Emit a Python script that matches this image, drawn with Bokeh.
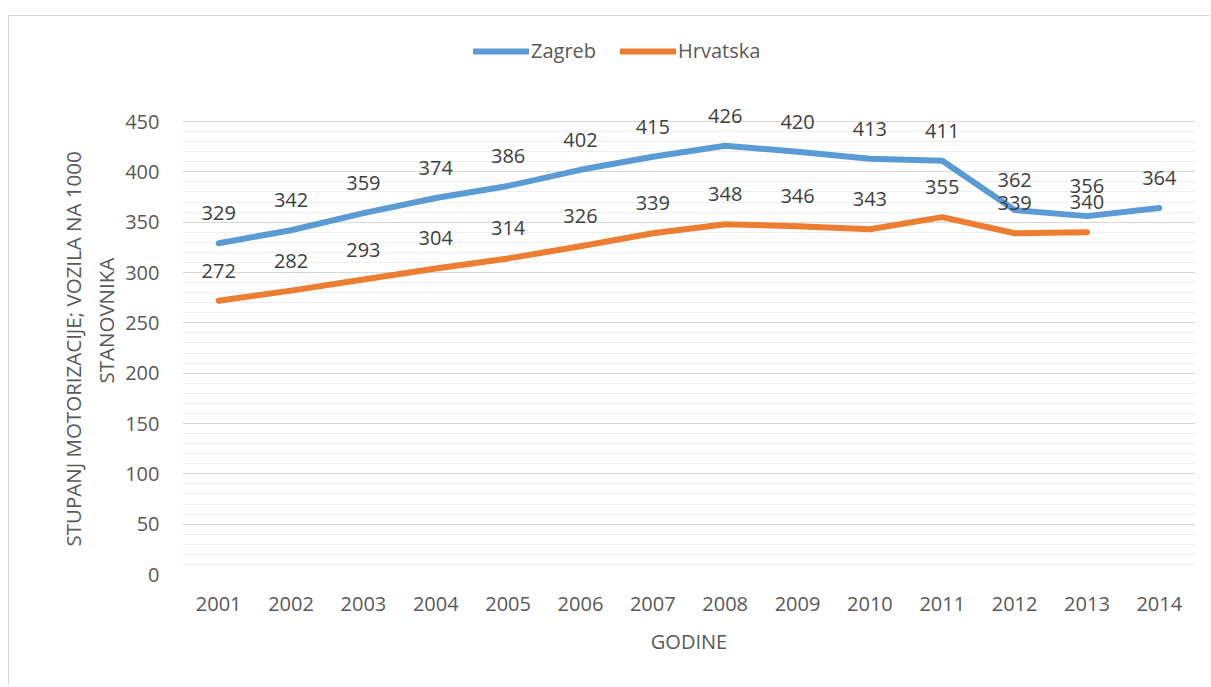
from bokeh.plotting import figure
from bokeh.layouts import column, row
from bokeh.models import (ColumnDataSource, FactorRange, Range1d, FixedTicker,
                          Legend, LegendItem, Spacer, Title)
from bokeh.core.properties import value
from bokeh.embed import file_html
from bokeh.resources import INLINE

years = ["2001", "2002", "2003", "2004", "2005", "2006", "2007",
         "2008", "2009", "2010", "2011", "2012", "2013", "2014"]
zagreb = [329, 342, 359, 374, 386, 402, 415, 426, 420, 413, 411, 362, 356, 364]
hrvatska_years = years[:13]
hrvatska = [272, 282, 293, 304, 314, 326, 339, 348, 346, 343, 355, 339, 340]
y_major_ticks = [0, 50, 100, 150, 200, 250, 300, 350, 400, 450]
y_minor_ticks = [v for v in range(10, 450, 10) if v % 50 != 0]
y_title_lines = ["STUPANJ MOTORIZACIJE; VOZILA NA 1000", "STANOVNIKA"]
x_title = "GODINE"

FONT = "Open Sans"
AXIS_COLOR = "#595959"
LABEL_COLOR = "#404040"
BLUE = "#5B9BD5"
ORANGE = "#ED7D31"

# frame extends above the 450 line so that labels/legend are not clipped
Y_TOP = (573 - 22) * 450 / 453

p = figure(width=1202, height=670, x_range=FactorRange(*years, range_padding=0),
           y_range=Range1d(0, Y_TOP), output_backend="svg", toolbar_location=None,
           min_border_left=173, min_border_right=16, min_border_top=7,
           min_border_bottom=112)
p.styles = {"border-top": "1px solid #d9d9d9", "border-left": "1px solid #d9d9d9"}
p.outline_line_color = None
p.background_fill_color = "white"
p.border_fill_color = "white"

src_z = ColumnDataSource(dict(x=years, y=zagreb, t=[str(v) for v in zagreb]))
src_h = ColumnDataSource(dict(x=hrvatska_years, y=hrvatska, t=[str(v) for v in hrvatska]))

# axes / grid
p.yaxis.ticker = FixedTicker(ticks=y_major_ticks)
p.ygrid.ticker = FixedTicker(ticks=y_major_ticks, minor_ticks=y_minor_ticks)
p.ygrid.grid_line_color = "#d9d9d9"
p.ygrid.grid_line_width = 1
p.ygrid.minor_grid_line_color = "#f0f0f0"
p.ygrid.minor_grid_line_width = 1
p.xgrid.grid_line_color = None

rz = p.line("x", "y", source=src_z, line_color=BLUE, line_width=6,
            line_cap="round", line_join="round")
rh = p.line("x", "y", source=src_h, line_color=ORANGE, line_width=6,
            line_cap="round", line_join="round")

for src in (src_z, src_h):
    p.text("x", "y", text="t", source=src, y_offset=-30, text_align="center",
           text_baseline="middle", text_font=value(FONT), text_font_size="20px",
           text_color=LABEL_COLOR)

for ax in (p.xaxis, p.yaxis):
    ax.axis_line_color = None
    ax.major_tick_line_color = None
    ax.minor_tick_line_color = None
    ax.major_label_text_font = FONT
    ax.major_label_text_font_size = "20px"
    ax.major_label_text_color = AXIS_COLOR
    ax.axis_label_text_font = FONT
    ax.axis_label_text_font_style = "normal"
    ax.axis_label_text_color = AXIS_COLOR

p.yaxis.major_label_standoff = 17
p.xaxis.major_label_standoff = 16
p.xaxis.axis_label = x_title
p.xaxis.axis_label_text_font_size = "20px"
p.xaxis.axis_label_standoff = 14

# y-axis title: two lines, second one closer to the axis
title_kw = dict(align="left", text_font=FONT, text_font_size="20.5px",
                text_font_style="normal", text_color=AXIS_COLOR)
p.add_layout(Title(text=y_title_lines[1], offset=191, standoff=6, **title_kw), "left")
p.add_layout(Title(text=y_title_lines[0], offset=28, standoff=0, **title_kw), "left")

legend = Legend(items=[LegendItem(label="Zagreb", renderers=[rz]),
                       LegendItem(label="Hrvatska", renderers=[rh])],
                orientation="horizontal", location=(291, 510),
                glyph_width=56, glyph_height=20, label_standoff=2, spacing=24,
                padding=0, margin=0, border_line_color=None,
                background_fill_alpha=0,
                label_text_font=FONT, label_text_font_size="20px",
                label_text_color=AXIS_COLOR)
p.add_layout(legend, "center")

layout = column(Spacer(height=15, width=1202), row(Spacer(width=8, height=670), p))
open("out.html", "w").write(file_html(layout, INLINE))
